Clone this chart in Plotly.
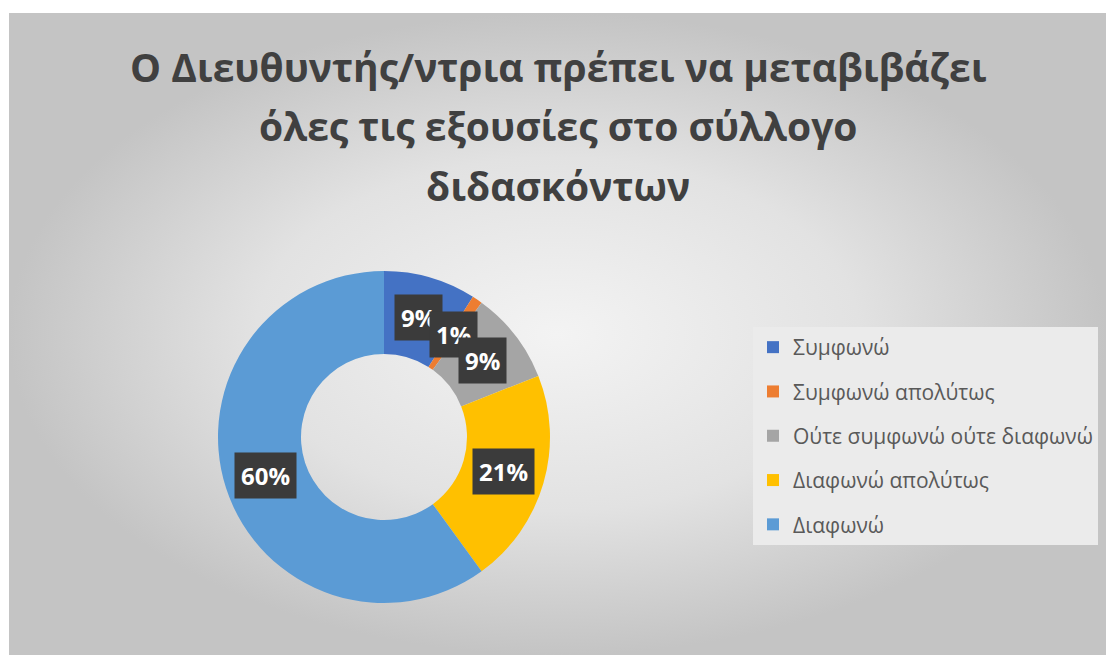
import math
import plotly.graph_objects as go

# Survey answers and their shares (%)
categories = [
    "Συμφωνώ",
    "Συμφωνώ απολύτως",
    "Ούτε συμφωνώ ούτε διαφωνώ",
    "Διαφωνώ απολύτως",
    "Διαφωνώ",
]
shares = [9, 1, 9, 21, 60]
colors = ["#4472C4", "#ED7D31", "#A5A5A5", "#FFC000", "#5B9BD5"]
title_lines = [
    "Ο Διευθυντής/ντρια πρέπει να μεταβιβάζει",
    "όλες τις εξουσίες στο σύλλογο",
    "διδασκόντων",
]

W, H = 1106, 655
FONT = "Open Sans"

# donut geometry (pixels)
cx, cy, R = 384, 437, 166
hole = 0.5
dom_x = [(cx - R) / W, (cx + R) / W]
dom_y = [(H - cy - R) / H, (H - cy + R) / H]

fig = go.Figure()

# chart panel with radial grey gradient
fig.add_trace(go.Scatter(
    x=[9, W, W, 9, 9], y=[13, 13, H, H, 13],
    mode="lines", fill="toself", line=dict(width=0),
    fillgradient=dict(type="radial",
                      colorscale=[[0, "#f3f3f3"], [0.55, "#e2e2e2"], [1, "#c4c4c4"]]),
    hoverinfo="skip", showlegend=False,
))

fig.add_trace(go.Pie(
    labels=categories, values=shares, hole=hole, sort=False,
    direction="clockwise", rotation=0,
    marker=dict(colors=colors, line=dict(width=0)),
    textinfo="none", showlegend=False,
    domain=dict(x=dom_x, y=dom_y),
))

# legend entries
for cat, col in zip(categories, colors):
    fig.add_trace(go.Scatter(
        x=[None], y=[None], mode="markers", name=cat, legendgroup=cat,
        marker=dict(symbol="square", size=12, color=col),
    ))

annotations = []
# data labels at the middle of each ring segment
start = 0.0
total = sum(shares)
rr = R * (1 + hole) / 2
for v in shares:
    mid = (start + v / 2) / total * 2 * math.pi
    start += v
    px = cx + rr * math.sin(mid)
    py = cy - rr * math.cos(mid)
    annotations.append(dict(
        x=px / W, y=1 - py / H, xref="paper", yref="paper",
        xanchor="center", yanchor="middle",
        text=f"<b>{v}%</b>", showarrow=False,
        font=dict(family=FONT, size=24, color="white"),
        bgcolor="#3b3b3b", borderpad=6,
    ))

# title lines
for i, line in enumerate(title_lines):
    annotations.append(dict(
        x=558 / W, y=1 - (66 + 59.5 * i) / H, xref="paper", yref="paper",
        xanchor="center", yanchor="middle", showarrow=False,
        text=f"<b>{line}</b>",
        font=dict(family=FONT, size=39, color="#404040"),
    ))

fig.update_layout(
    width=W, height=H,
    margin=dict(l=0, r=0, t=0, b=0),
    paper_bgcolor="white", plot_bgcolor="rgba(0,0,0,0)",
    xaxis=dict(range=[0, W], visible=False, domain=[0, 1], fixedrange=True),
    yaxis=dict(range=[H, 0], visible=False, domain=[0, 1], fixedrange=True),
    annotations=annotations,
    legend=dict(
        x=753 / W, y=1 - 327 / H, xanchor="left", yanchor="top",
        bgcolor="#ebebeb", borderwidth=0,
        font=dict(family=FONT, size=21, color="#595959"),
        traceorder="grouped", tracegroupgap=14,
    ),
    showlegend=True,
)

fig.write_html("out.html")
